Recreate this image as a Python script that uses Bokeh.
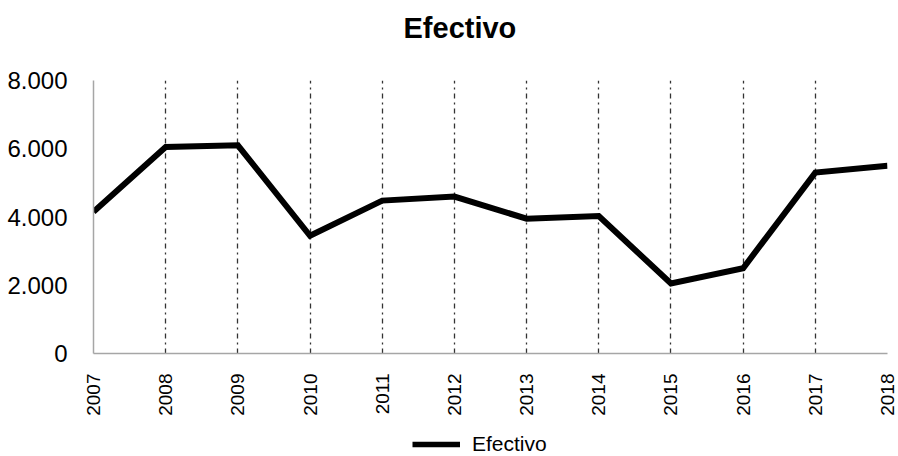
from bokeh.plotting import figure
from bokeh.models import Range1d, FixedTicker, Legend, LegendItem, CustomJSTickFormatter, Title
from bokeh.layouts import column
from bokeh.embed import file_html
from bokeh.resources import INLINE

years = [2007, 2008, 2009, 2010, 2011, 2012, 2013, 2014, 2015, 2016, 2017, 2018]
efectivo = [4150, 6050, 6100, 3450, 4480, 4600, 3950, 4030, 2050, 2500, 5300, 5500]
y_ticks = [0, 2000, 4000, 6000, 8000]
series_name = "Efectivo"
title_text = "Efectivo"

p = figure(width=898, height=434, output_backend="svg", toolbar_location=None,
           x_range=Range1d(2007, 2018), y_range=Range1d(0, 8000),
           min_border_left=93, min_border_right=11, min_border_top=80, min_border_bottom=81)
# spacer panel between title and frame
p.add_layout(Title(text=" ", text_font="Liberation Sans", text_font_size="29px", standoff=1), "above")
p.title.text = title_text
p.title.align = "left"
p.title.offset = 310
p.title.text_font = "Liberation Sans"
p.title.text_font_size = "29px"
p.title.text_font_style = "bold"
p.title.text_color = "#000000"
p.title.standoff = 4

r = p.line(years, efectivo, line_color="#000000", line_width=6, line_join="miter")

p.xaxis.ticker = FixedTicker(ticks=years)
p.yaxis.ticker = FixedTicker(ticks=y_ticks)
p.yaxis.formatter = CustomJSTickFormatter(code="return tick.toLocaleString('de-DE');")
for ax in (p.xaxis[0], p.yaxis[0]):
    ax.axis_line_color = "#a6a6a6"
    ax.axis_line_width = 1.5
    ax.major_tick_line_color = None
    ax.minor_tick_line_color = None
    ax.major_label_text_font = "Liberation Sans"
    ax.major_label_text_color = "#000000"
p.yaxis.major_label_text_font_size = "24px"
p.yaxis.major_label_standoff = 20
p.xaxis.major_label_text_font_size = "19px"
p.xaxis.major_label_orientation = 1.5708
p.xaxis.major_label_standoff = 14

p.ygrid.grid_line_color = None
p.xgrid.ticker = FixedTicker(ticks=years[1:])
p.xgrid.grid_line_color = "#333333"
p.xgrid.grid_line_width = 1.3
p.xgrid.grid_line_dash = "5 4 2 4"
p.outline_line_color = None

# legend strip below the chart
lg = figure(width=898, height=22, output_backend="svg", toolbar_location=None,
            x_range=Range1d(0, 1), y_range=Range1d(0, 1), min_border=0)
lg.axis.visible = False
lg.grid.grid_line_color = None
lg.outline_line_color = None
lr = lg.line([float("nan")], [float("nan")], line_color="#000000", line_width=5.5)
legend = Legend(items=[LegendItem(label=series_name, renderers=[lr])],
                orientation="horizontal", location=(319, 0),
                label_text_font="Liberation Sans", label_text_font_size="21px",
                label_text_color="#000000", label_height=20, glyph_height=20,
                glyph_width=48, label_standoff=12,
                border_line_color=None, background_fill_alpha=0,
                padding=0, margin=0)
lg.add_layout(legend)

layout = column(p, lg, spacing=0)
open("out.html", "w").write(file_html(layout, INLINE))
